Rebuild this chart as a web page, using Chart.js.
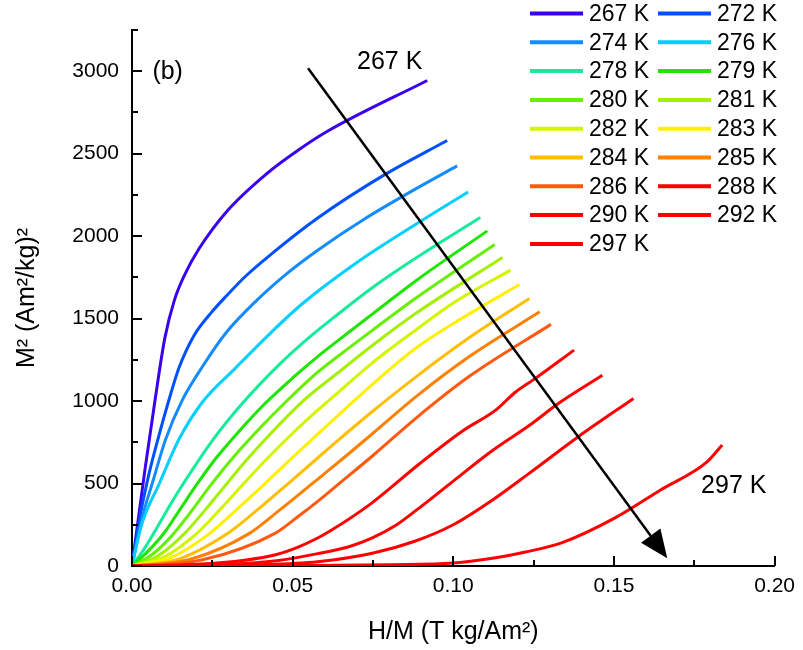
<!DOCTYPE html>
<html>
<head>
<meta charset="utf-8">
<script src="https://cdn.jsdelivr.net/npm/chart.js@4.4.0/dist/chart.umd.min.js"></script>
<style>
  body { margin: 0; background: #fff; }
  #wrap { width: 803px; height: 650px; }
</style>
</head>
<body>
<div id="wrap"><canvas id="arrott" width="803" height="650"></canvas></div>
<script>
// temperatures (K) and colours of each isotherm
var temps = [267, 272, 274, 276, 278, 279, 280, 281, 282, 283, 284, 285, 286, 288, 290, 292, 297];
var colors = ['#3a00f0', '#0050ff', '#148cff', '#00d0ff', '#14eb9b', '#1ee600', '#64f000', '#a5f000',
              '#d2f500', '#fff000', '#ffbe00', '#ff8000', '#ff5a10', '#ff0000', '#ff0000', '#ff0000', '#ff0000'];

// H/M (T kg/Am2) and M^2 ((Am2/kg)^2), one pair per isotherm
var x267 = [0, 0.004, 0.0071, 0.0102, 0.0132, 0.0165, 0.0209, 0.0295, 0.042, 0.0517, 0.0603, 0.0919];
var y267 = [0, 580, 996, 1380, 1612, 1770, 1925, 2150, 2380, 2521, 2630, 2944];
var x272 = [0, 0.0025, 0.0053, 0.0085, 0.012, 0.0146, 0.0194, 0.0244, 0.0295, 0.0355, 0.0439, 0.0578, 0.0784, 0.0981];
var y272 = [0, 300, 560, 800, 1040, 1200, 1400, 1530, 1640, 1760, 1900, 2110, 2370, 2580];
var x274 = [0, 0.003, 0.0066, 0.0105, 0.0155, 0.0219, 0.0291, 0.0389, 0.048, 0.0578, 0.072, 0.0886, 0.1012];
var y274 = [0, 280, 520, 770, 1000, 1208, 1410, 1612, 1770, 1915, 2100, 2290, 2426];
var x276 = [0, 0.003, 0.0085, 0.0145, 0.022, 0.0322, 0.0435, 0.053, 0.07, 0.0886, 0.1046];
var y276 = [0, 250, 500, 764, 996, 1200, 1420, 1590, 1840, 2075, 2268];
var x278 = [0, 0.004, 0.008, 0.012, 0.016, 0.025, 0.0343, 0.0455, 0.0548, 0.064, 0.075, 0.0886, 0.1084];
var y278 = [0, 110, 240, 375, 500, 760, 985, 1215, 1380, 1525, 1690, 1870, 2113];
var x279 = [0, 0.005, 0.01, 0.015, 0.02, 0.026, 0.033, 0.0414, 0.05, 0.0578, 0.064, 0.075, 0.0886, 0.1106];
var y279 = [0, 90, 200, 345, 490, 650, 810, 985, 1140, 1270, 1365, 1530, 1733, 2032];
var x280 = [0, 0.006, 0.012, 0.018, 0.0245, 0.032, 0.04, 0.0476, 0.0578, 0.064, 0.075, 0.0886, 0.1129];
var y280 = [0, 65, 175, 320, 490, 670, 840, 990, 1175, 1270, 1432, 1628, 1950];
var x281 = [0, 0.008, 0.016, 0.023, 0.0291, 0.036, 0.044, 0.0538, 0.064, 0.075, 0.0886, 0.1153];
var y281 = [0, 60, 190, 345, 490, 650, 820, 1010, 1170, 1340, 1535, 1871];
var x282 = [0, 0.01, 0.02, 0.0275, 0.0348, 0.042, 0.05, 0.0578, 0.064, 0.075, 0.0886, 0.1, 0.1178];
var y282 = [0, 55, 195, 345, 500, 650, 805, 945, 1050, 1235, 1435, 1595, 1794];
var x283 = [0, 0.012, 0.024, 0.033, 0.0414, 0.049, 0.0578, 0.064, 0.075, 0.0886, 0.1, 0.1206];
var y283 = [0, 50, 195, 350, 500, 640, 800, 910, 1105, 1325, 1470, 1707];
var x284 = [0, 0.015, 0.0296, 0.039, 0.0486, 0.0578, 0.064, 0.075, 0.0886, 0.105, 0.1237];
var y284 = [0, 45, 195, 340, 500, 655, 760, 940, 1150, 1385, 1622];
var x285 = [0, 0.018, 0.0363, 0.046, 0.0558, 0.064, 0.075, 0.0886, 0.105, 0.1269];
var y285 = [0, 40, 195, 340, 495, 625, 805, 1030, 1270, 1541];
var x286 = [0, 0.022, 0.0445, 0.0517, 0.0578, 0.064, 0.075, 0.0886, 0.105, 0.1304];
var y286 = [0, 38, 198, 300, 392, 492, 670, 900, 1150, 1465];
var x288 = [0, 0.02, 0.035, 0.045, 0.0517, 0.0578, 0.0619, 0.0745, 0.0895, 0.103, 0.1132, 0.1194, 0.125, 0.1376];
var y288 = [0, 10, 35, 70, 115, 170, 215, 380, 620, 820, 945, 1055, 1130, 1309];
var x290 = [0, 0.03, 0.045, 0.0578, 0.068, 0.0748, 0.082, 0.0886, 0.1, 0.1122, 0.1235, 0.1327, 0.1464];
var y290 = [0, 10, 32, 75, 120, 170, 245, 340, 515, 700, 850, 985, 1156];
var x292 = [0, 0.04, 0.0578, 0.0748, 0.088, 0.1, 0.1122, 0.1235, 0.1389, 0.1561];
var y292 = [0, 8, 26, 77, 150, 250, 400, 560, 784, 1016];
var x297 = [0, 0.05, 0.08, 0.1, 0.1132, 0.1225, 0.1337, 0.1502, 0.1645, 0.1789, 0.1837];
var y297 = [0, 3, 8, 18, 50, 85, 140, 290, 461, 630, 733];

// axis ticks
var xTicks = [0, 0.05, 0.10, 0.15, 0.20];
var yTicks = [0, 500, 1000, 1500, 2000, 2500, 3000];

// arrow (data coords: start, tip) and text notes
var arrowX = [0.0548, 0.1666];
var arrowY = [3018, 47];
var noteText = ['267 K', '297 K', '(b)'];
var noteX = [0.0802, 0.1873, 0.0111];
var noteY = [3055, 482, 2994];

var FONT = '"Liberation Sans", Arial, sans-serif';

var xs = [x267, x272, x274, x276, x278, x279, x280, x281, x282, x283, x284, x285, x286, x288, x290, x292, x297];
var ys = [y267, y272, y274, y276, y278, y279, y280, y281, y282, y283, y284, y285, y286, y288, y290, y292, y297];

var datasets = [];
for (var i = 0; i < temps.length; i++) {
    var pts = xs[i].map(function (v, j) { return { x: v, y: ys[i][j] }; });
    datasets.push({
        label: temps[i] + ' K',
        data: pts,
        borderColor: colors[i],
        backgroundColor: colors[i],
        borderWidth: 3,
        pointRadius: 0,
        cubicInterpolationMode: 'monotone',
        fill: false,
        order: temps.length - i
    });
}

// inward ticks, arrow, notes and the two-column legend
var decor = {
    id: 'decor',
    afterDraw: function (chart) {
        var ctx = chart.ctx;
        var sx = chart.scales.x, sy = chart.scales.y;
        var area = chart.chartArea;
        ctx.save();
        ctx.strokeStyle = '#000';
        ctx.lineWidth = 2;
        ctx.beginPath();
        for (var k = 0; k <= 8; k++) {
            var px = Math.round(sx.getPixelForValue(k * 0.025));
            ctx.moveTo(px, area.bottom);
            ctx.lineTo(px, area.bottom - (k % 2 === 0 ? 10 : 6));
        }
        for (var m = 0; m <= 13; m++) {
            var py = Math.round(sy.getPixelForValue(m * 250));
            ctx.moveTo(area.left, py);
            ctx.lineTo(area.left + (m % 2 === 0 ? 10 : 6), py);
        }
        ctx.stroke();

        // arrow
        var x0 = sx.getPixelForValue(arrowX[0]), y0 = sy.getPixelForValue(arrowY[0]);
        var x1 = sx.getPixelForValue(arrowX[1]), y1 = sy.getPixelForValue(arrowY[1]);
        var len = Math.hypot(x1 - x0, y1 - y0);
        var ux = (x1 - x0) / len, uy = (y1 - y0) / len;
        var hl = 28, hw = 12;
        var bx = x1 - ux * hl, by = y1 - uy * hl;
        ctx.lineWidth = 2.5;
        ctx.beginPath();
        ctx.moveTo(x0, y0);
        ctx.lineTo(bx, by);
        ctx.stroke();
        ctx.fillStyle = '#000';
        ctx.beginPath();
        ctx.moveTo(x1, y1);
        ctx.lineTo(bx - uy * hw, by + ux * hw);
        ctx.lineTo(bx + uy * hw, by - ux * hw);
        ctx.closePath();
        ctx.fill();

        // notes
        ctx.font = '25px ' + FONT;
        ctx.textAlign = 'center';
        ctx.textBaseline = 'middle';
        for (var n = 0; n < noteText.length; n++) {
            ctx.fillText(noteText[n], sx.getPixelForValue(noteX[n]), sy.getPixelForValue(noteY[n]));
        }

        // legend
        ctx.font = '23px ' + FONT;
        ctx.textAlign = 'left';
        ctx.lineWidth = 4;
        var colX = [530, 658], rowY0 = 13.5, rowH = 28.8;
        chart.data.datasets.forEach(function (ds, idx) {
            var cx = colX[idx % 2];
            var cy = rowY0 + Math.floor(idx / 2) * rowH;
            ctx.strokeStyle = ds.borderColor;
            ctx.beginPath();
            ctx.moveTo(cx, cy);
            ctx.lineTo(cx + 53, cy);
            ctx.stroke();
            ctx.fillStyle = '#000';
            ctx.fillText(ds.label, cx + 59, cy + 1);
        });
        ctx.restore();
    }
};

var ctx = document.getElementById('arrott').getContext('2d');
var myChart = new Chart(ctx, {
    type: 'line',
    data: { datasets: datasets },
    plugins: [decor],
    options: {
        responsive: false,
        animation: false,
        devicePixelRatio: 1,
        layout: { padding: { top: 30, right: 21, left: 0, bottom: 0 } },
        plugins: {
            legend: { display: false },
            tooltip: { enabled: false }
        },
        scales: {
            x: {
                type: 'linear',
                min: 0,
                max: 0.2,
                afterFit: function (s) { s.height = 84; },
                afterBuildTicks: function (s) { s.ticks = xTicks.map(function (v) { return { value: v }; }); },
                grid: { display: false, drawTicks: false },
                border: { display: true, color: '#000', width: 2 },
                ticks: {
                    padding: 8,
                    color: '#000',
                    font: { family: FONT, size: 21 },
                    maxRotation: 0,
                    callback: function (v) { return Number(v).toFixed(2); }
                },
                title: {
                    display: true,
                    text: 'H/M (T kg/Am²)',
                    color: '#000',
                    font: { family: FONT, size: 25 },
                    padding: { top: 0, bottom: 3 }
                }
            },
            y: {
                type: 'linear',
                min: 0,
                max: 3250,
                afterFit: function (s) { s.width = 132; },
                afterBuildTicks: function (s) { s.ticks = yTicks.map(function (v) { return { value: v }; }); },
                grid: { display: false, drawTicks: false },
                border: { display: true, color: '#000', width: 2 },
                ticks: {
                    padding: 13,
                    color: '#000',
                    font: { family: FONT, size: 21 },
                    callback: function (v) { return String(v); }
                },
                title: {
                    display: true,
                    text: 'M² (Am²/kg)²',
                    color: '#000',
                    font: { family: FONT, size: 25 },
                    padding: { top: 12, bottom: 0 }
                }
            }
        }
    }
});
</script>
</body>
</html>
